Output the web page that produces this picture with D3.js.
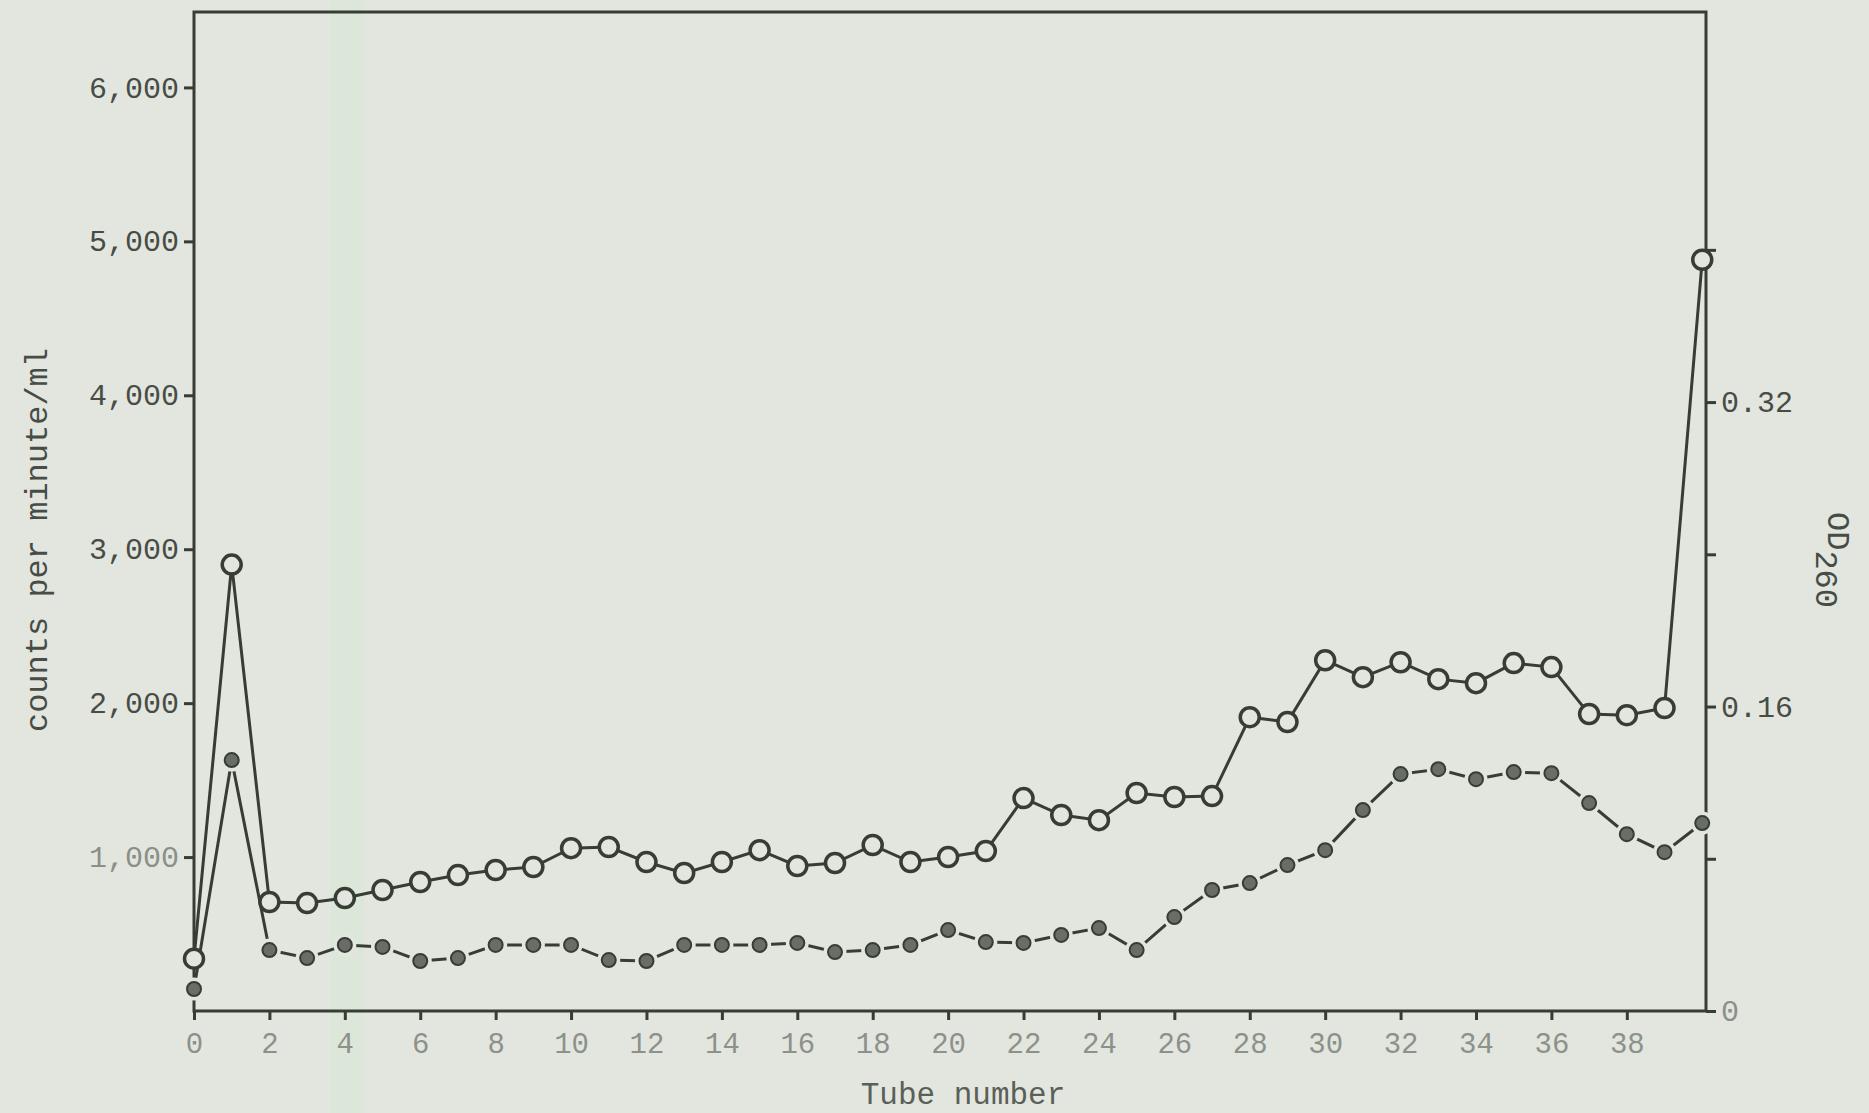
<!DOCTYPE html>
<html>
<head>
<meta charset="utf-8">
<script src="https://cdn.jsdelivr.net/npm/d3@7"></script>
<style>
  html, body { margin: 0; padding: 0; background: #e2e6df; }
  svg { display: block; }
  text { font-family: "Liberation Mono", "DejaVu Sans Mono", monospace; }
</style>
</head>
<body>
<div id="chart"></div>
<script>
var svgWidth = 1869;
var svgHeight = 1113;

// Tube numbers (x categories)
var tubes = [0, 1, 2, 3, 4, 5, 6, 7, 8, 9, 10, 11, 12, 13, 14, 15, 16, 17, 18, 19, 20,
  21, 22, 23, 24, 25, 26, 27, 28, 29, 30, 31, 32, 33, 34, 35, 36, 37, 38, 39, 40];

// open circles (counts per minute/ml)
var openValues = [340, 2900, 708, 701, 734, 786, 838, 883, 916, 935, 1058, 1065, 968, 896,
  968, 1045, 942, 961, 1078, 968, 1000, 1039, 1383, 1273, 1240, 1416, 1390, 1396,
  1909, 1877, 2279, 2169, 2266, 2156, 2130, 2260, 2234, 1929, 1922, 1968, 4880];

// filled circles, same scale
var filledValues = [143, 1630, 396, 344, 429, 416, 325, 344, 429, 429, 429, 331, 325, 429,
  429, 429, 442, 383, 396, 429, 526, 448, 442, 494, 539, 396, 610, 786,
  831, 948, 1045, 1305, 1539, 1571, 1506, 1552, 1545, 1351, 1149, 1032, 1221];

// tick labels
var xTicks = [0, 2, 4, 6, 8, 10, 12, 14, 16, 18, 20, 22, 24, 26, 28, 30, 32, 34, 36, 38];
var leftTicks = [1000, 2000, 3000, 4000, 5000, 6000];
var rightTicks = [0, 0.08, 0.16, 0.24, 0.32, 0.40];
var rightLabelled = [0, 0.16, 0.32];

var ink = "#373c35";
var paper = "#e2e6df";

var margin = { top: 12, right: 163, bottom: 102, left: 194 };
var width = svgWidth - margin.left - margin.right;
var height = svgHeight - margin.top - margin.bottom;

var svg = d3.select("#chart")
  .append("svg")
  .attr("width", svgWidth)
  .attr("height", svgHeight);

svg.append("rect")
  .attr("width", svgWidth)
  .attr("height", svgHeight)
  .attr("fill", paper);

// faint greenish band from the scan
svg.append("rect")
  .attr("x", 330).attr("y", 0)
  .attr("width", 34).attr("height", svgHeight)
  .attr("fill", "#dbe6d7")
  .attr("opacity", 0.8);

var chartGroup = svg.append("g")
  .attr("transform", `translate(${margin.left}, ${margin.top})`);

// scales
var xScale = d3.scaleLinear().domain([0, 40.1]).range([0, width]);
var yLeft = d3.scaleLinear().domain([0, 6490]).range([height, 0]);
var yRight = d3.scaleLinear().domain([0, 0.525]).range([height, 0]);

// frame
chartGroup.append("rect")
  .attr("x", 0).attr("y", 0)
  .attr("width", width).attr("height", height)
  .attr("fill", "none")
  .attr("stroke", ink)
  .attr("stroke-width", 3);

// axes
var bottomAxis = d3.axisBottom(xScale)
  .tickValues(xTicks)
  .tickSize(9)
  .tickPadding(12)
  .tickFormat(d3.format("d"));

var leftAxis = d3.axisLeft(yLeft)
  .tickValues(leftTicks)
  .tickSize(10)
  .tickPadding(5)
  .tickFormat(d3.format(","));

var rightAxis = d3.axisRight(yRight)
  .tickValues(rightTicks)
  .tickSize(10)
  .tickPadding(5)
  .tickFormat(function(d) {
    return rightLabelled.indexOf(d) >= 0 ? (d === 0 ? "0" : d3.format(".2f")(d)) : "";
  });

var gx = chartGroup.append("g")
  .attr("transform", `translate(0, ${height})`)
  .call(bottomAxis);

var gl = chartGroup.append("g")
  .call(leftAxis);

var gr = chartGroup.append("g")
  .attr("transform", `translate(${width}, 0)`)
  .call(rightAxis);

[gx, gl, gr].forEach(function(g) {
  g.select(".domain").remove();
  g.selectAll(".tick line").attr("stroke", ink).attr("stroke-width", 3);
});

gx.selectAll("text")
  .attr("font-size", 29)
  .attr("fill", "#8c918a");

gl.selectAll("text")
  .attr("font-size", 30)
  .attr("fill", function(d) { return d === 1000 ? "#8a8f88" : "#474c45"; });

gr.selectAll("text")
  .attr("font-size", 30)
  .attr("fill", function(d) { return d === 0 ? "#8a8f88" : "#474c45"; });

// lines
var line = d3.line()
  .x(function(d, i) { return xScale(tubes[i]); })
  .y(function(d) { return yLeft(d); });

chartGroup.append("path")
  .datum(filledValues)
  .attr("d", line)
  .attr("fill", "none")
  .attr("stroke", ink)
  .attr("stroke-width", 3);

// gaps round the filled dots
chartGroup.selectAll(".halo")
  .data(filledValues)
  .enter()
  .append("circle")
  .attr("class", "halo")
  .attr("cx", function(d, i) { return xScale(tubes[i]); })
  .attr("cy", function(d) { return yLeft(d); })
  .attr("r", 11.5)
  .attr("fill", paper);

chartGroup.selectAll(".dot")
  .data(filledValues)
  .enter()
  .append("circle")
  .attr("class", "dot")
  .attr("cx", function(d, i) { return xScale(tubes[i]); })
  .attr("cy", function(d) { return yLeft(d); })
  .attr("r", 7)
  .attr("fill", "#686d66")
  .attr("stroke", ink)
  .attr("stroke-width", 2);

chartGroup.append("path")
  .datum(openValues)
  .attr("d", line)
  .attr("fill", "none")
  .attr("stroke", ink)
  .attr("stroke-width", 3);

chartGroup.selectAll(".ring")
  .data(openValues)
  .enter()
  .append("circle")
  .attr("class", "ring")
  .attr("cx", function(d, i) { return xScale(tubes[i]); })
  .attr("cy", function(d) { return yLeft(d); })
  .attr("r", 9.5)
  .attr("fill", paper)
  .attr("stroke", ink)
  .attr("stroke-width", 3.5);

// axis titles
svg.append("text")
  .attr("transform", "translate(47, 540) rotate(-90)")
  .attr("text-anchor", "middle")
  .attr("font-size", 32)
  .attr("fill", "#474c45")
  .text("counts per minute/ml");

svg.append("text")
  .attr("x", 963)
  .attr("y", 1104)
  .attr("text-anchor", "middle")
  .attr("font-size", 31)
  .attr("fill", "#5a5f58")
  .text("Tube number");

var od = svg.append("text")
  .attr("transform", "translate(1828, 512) rotate(90)")
  .attr("font-size", 32)
  .attr("fill", "#474c45");
od.append("tspan").text("OD");
od.append("tspan").attr("dy", 12).text("260");
</script>
</body>
</html>
